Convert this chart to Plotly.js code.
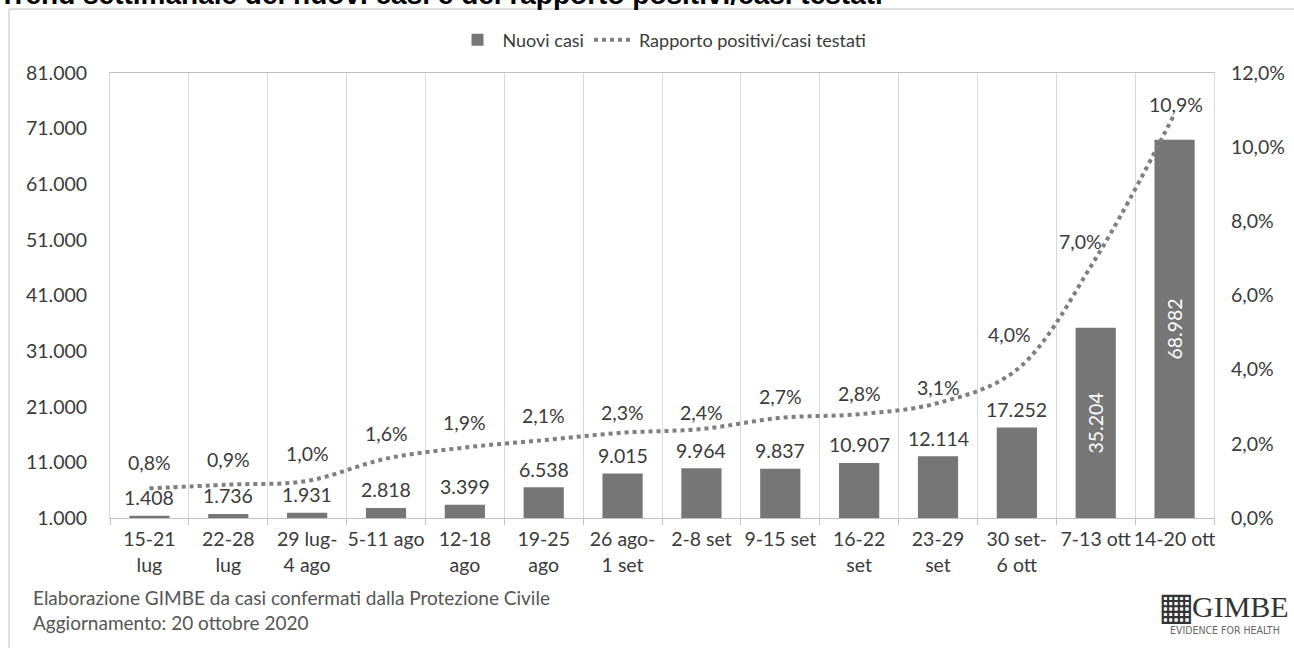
<!DOCTYPE html>
<html>
<head>
<meta charset="utf-8">
<script src="https://cdn.plot.ly/plotly-3.0.1.min.js"></script>
<style>
  html, body { margin: 0; padding: 0; background: #ffffff; }
  #chart { width: 1294px; height: 648px; }
</style>
</head>
<body>
<div id="chart"></div>
<script>
// ---- data ----
const weeks = ["15-21<br>lug", "22-28<br>lug", "29 lug-<br>4 ago", "5-11 ago", "12-18<br>ago", "19-25<br>ago",
               "26 ago-<br>1 set", "2-8 set", "9-15 set", "16-22<br>set", "23-29<br>set", "30 set-<br>6 ott",
               "7-13 ott", "14-20 ott"];
const newCases = [1408, 1736, 1931, 2818, 3399, 6538, 9015, 9964, 9837, 10907, 12114, 17252, 35204, 68982];
const positiveRatio = [0.8, 0.9, 1.0, 1.6, 1.9, 2.1, 2.3, 2.4, 2.7, 2.8, 3.1, 4.0, 7.0, 10.9]; // percent

// label placement tweaks (pixels) for the ratio labels
const ratioLabelDy = [26, 25, 27, 25, 25, 25, 20, 17, 21, 21, 16, 35, 17, 9];
const ratioLabelDx = [0, 0, 0, 0, 0, 0, 0, 0, 0, 0, 0, -7, -15, 1];

// ---- layout geometry helpers ----
const W = 1294, H = 648;
const M = { l: 110, r: 80, t: 73, b: 130 };
const PW = W - M.l - M.r, PH = H - M.t - M.b;
const xp = px => (px - M.l) / PW;
const yp = py => (H - M.b - py) / PH;

const FONT = "Lato, 'Open Sans', sans-serif";
const TXT = "#3a3a3a";
const BAR = "#767676";
const FS = 19.5;

const fmtInt = v => v.toString().replace(/\B(?=(\d{3})+(?!\d))/g, ".");
const fmtPct = v => v.toFixed(1).replace(".", ",") + "%";

const traces = [
  {
    type: "bar",
    name: "Nuovi casi",
    x: weeks,
    y: newCases,
    marker: { color: BAR },
    hoverinfo: "skip"
  },
  {
    type: "scatter",
    mode: "lines",
    name: "Rapporto positivi/casi testati",
    x: weeks,
    y: positiveRatio.map(v => v / 100),
    yaxis: "y2",
    line: { color: "#7f7f7f", width: 4, dash: "dot", shape: "spline", smoothing: 1 },
    hoverinfo: "skip"
  }
];

const annotations = [];
// bar value labels
const insideThreshold = 30000;
newCases.forEach((v, i) => {
  if (v > insideThreshold) {
    annotations.push({
      x: weeks[i], y: (v + 1000) / 2, xref: "x", yref: "y",
      text: fmtInt(v), showarrow: false, textangle: -90,
      font: { family: FONT, size: FS, color: "#ffffff" }
    });
  } else {
    annotations.push({
      x: weeks[i], y: v, xref: "x", yref: "y",
      text: fmtInt(v), showarrow: false, yshift: 18,
      font: { family: FONT, size: FS, color: TXT }
    });
  }
});
// ratio labels
positiveRatio.forEach((v, i) => {
  annotations.push({
    x: weeks[i], y: v / 100, xref: "x", yref: "y2",
    text: fmtPct(v), showarrow: false,
    yshift: ratioLabelDy[i], xshift: ratioLabelDx[i],
    font: { family: FONT, size: FS, color: TXT }
  });
});
// title (cut off at top in the original)
annotations.push({
  xref: "paper", yref: "paper", x: xp(-3), y: yp(12), xanchor: "left", yanchor: "bottom",
  text: "<b>Trend settimanale dei nuovi casi e del rapporto positivi/casi testati</b>",
  showarrow: false, font: { family: "'Liberation Sans', Arial, sans-serif", size: 28, color: "#000000" }
});
// footer
annotations.push({
  xref: "paper", yref: "paper", x: xp(31), y: yp(597), xanchor: "left", yanchor: "middle",
  text: "Elaborazione GIMBE da casi confermati dalla Protezione Civile",
  showarrow: false, font: { family: FONT, size: 19, color: "#555555" }
});
annotations.push({
  xref: "paper", yref: "paper", x: xp(31), y: yp(622), xanchor: "left", yanchor: "middle",
  text: "Aggiornamento: 20 ottobre 2020",
  showarrow: false, font: { family: FONT, size: 19, color: "#555555" }
});
// GIMBE logo
annotations.push({
  xref: "paper", yref: "paper", x: xp(1176), y: yp(606), xanchor: "center", yanchor: "middle",
  text: "▦", showarrow: false, font: { family: "'DejaVu Sans', sans-serif", size: 38, color: "#333333" }
});
annotations.push({
  xref: "paper", yref: "paper", x: xp(1190), y: yp(606), xanchor: "left", yanchor: "middle",
  text: "GIMBE", showarrow: false, font: { family: "'Liberation Serif', 'DejaVu Serif', serif", size: 30, color: "#333333" }
});
annotations.push({
  xref: "paper", yref: "paper", x: xp(1225), y: yp(630), xanchor: "center", yanchor: "middle",
  text: "EVIDENCE FOR HEALTH", showarrow: false, font: { family: "'DejaVu Sans Condensed', 'DejaVu Sans', sans-serif", size: 10.5, color: "#666666" }
});

const shapes = [
  // outer frame (top and left edges visible)
  { type: "line", xref: "paper", yref: "paper", x0: xp(9), x1: xp(1300), y0: yp(9), y1: yp(9), line: { color: "#d4d4d4", width: 1.5 } },
  { type: "line", xref: "paper", yref: "paper", x0: xp(9), x1: xp(9), y0: yp(9), y1: yp(660), line: { color: "#d4d4d4", width: 1.5 } }
];

const layout = {
  width: W, height: H,
  margin: M,
  paper_bgcolor: "#ffffff",
  plot_bgcolor: "#ffffff",
  separators: ",.",
  font: { family: FONT, size: FS, color: TXT },
  bargap: 0.49,
  showlegend: true,
  legend: {
    orientation: "h", x: 0.5, xanchor: "center", y: yp(40), yanchor: "middle",
    font: { family: FONT, size: 18, color: TXT }, itemwidth: 40
  },
  xaxis: {
    type: "category",
    tickson: "boundaries",
    ticks: "outside", ticklen: 6, tickcolor: "#bfbfbf",
    showgrid: true, gridcolor: "#d9d9d9", gridwidth: 1,
    showline: true, linecolor: "#bfbfbf", linewidth: 1, mirror: true,
    tickfont: { family: FONT, size: FS, color: TXT },
    tickangle: 0, ticklabelstandoff: 4,
    fixedrange: true
  },
  yaxis: {
    range: [1000, 81000], tick0: 1000, dtick: 10000, tickformat: ",d",
    showgrid: false, zeroline: false,
    showline: true, linecolor: "#d9d9d9", linewidth: 1, mirror: true,
    ticks: "", ticklabelstandoff: 18,
    tickfont: { family: FONT, size: FS, color: TXT },
    fixedrange: true
  },
  yaxis2: {
    overlaying: "y", side: "right",
    range: [0, 0.12], tick0: 0, dtick: 0.02, tickformat: ".1%",
    showgrid: false, zeroline: false, showline: false,
    ticks: "", ticklabelstandoff: 16,
    tickfont: { family: FONT, size: FS, color: TXT },
    fixedrange: true
  },
  annotations: annotations,
  shapes: shapes
};

Plotly.newPlot("chart", traces, layout, { staticPlot: true, displayModeBar: false });
</script>
</body>
</html>
